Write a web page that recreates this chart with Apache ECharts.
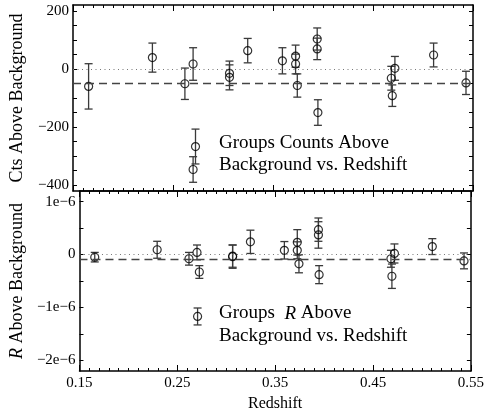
<!DOCTYPE html>
<html>
<head>
<meta charset="utf-8">
<script src="https://cdn.jsdelivr.net/npm/echarts@6/dist/echarts.min.js"></script>
<style>
  html, body { margin: 0; padding: 0; background: #fff; }
  #box { width: 487px; height: 413px; }
</style>
</head>
<body>
<div id="box"></div>
<script>
// redshift of each group
var z = [0.1656, 0.2294, 0.2619, 0.2701, 0.2725, 0.3065, 0.3065, 0.3247, 0.3594, 0.3726,
         0.3726, 0.3743, 0.3942, 0.3942, 0.3949, 0.4683, 0.4693, 0.4719, 0.5106, 0.5430];
// counts above background and 1-sigma errors
var cts = [-60, 39, -51, 17, -267, -15, -29, 63, 28, 44, 17, -57, 103, 69, -150, -32, -92, 2, 48, -48];
var ctsErr = [78, 50, 54, 56, 60, 42, 43, 42, 45, 38, 34, 40, 38, 37, 44, 41, 37, 41, 41, 40];
// R above background and errors
var r = [-0.05e-6, 0.09e-6, -0.08e-6, 0.04e-6, -0.33e-6, -0.03e-6, -0.04e-6, 0.24e-6, 0.08e-6, 0.23e-6,
         0.08e-6, -0.175e-6, 0.47e-6, 0.37e-6, -0.38e-6, -0.08e-6, -0.41e-6, 0.02e-6, 0.15e-6, -0.12e-6];
var rErr = [0.09e-6, 0.16e-6, 0.12e-6, 0.14e-6, 0.12e-6, 0.21e-6, 0.22e-6, 0.22e-6, 0.165e-6, 0.24e-6,
            0.16e-6, 0.17e-6, 0.22e-6, 0.25e-6, 0.17e-6, 0.16e-6, 0.23e-6, 0.18e-6, 0.15e-6, 0.15e-6];
// mean levels (dashed lines)
var ctsMean = -48;
var rMean = -0.08e-6;
// key symbols next to the panel captions
var keyCts = [0.2701, -346, 44];
var keyR = [0.2707, -1.17e-6, 0.16e-6];
// tick labels
var xTicks = [0.15, 0.25, 0.35, 0.45, 0.55];
var ctsTicks = [-400, -200, 0, 200];
var ctsMinor = [-400, -350, -300, -250, -200, -150, -100, -50, 0, 50, 100, 150, 200];
var rTicks = [-2e-6, -1e-6, 0, 1e-6];
var rMinor = [-2e-6, -1.5e-6, -1e-6, -0.5e-6, 0, 0.5e-6, 1e-6];

var FONT = 'Liberation Serif';
var myChart = echarts.init(document.getElementById('box'));

function minus(s) { return String(s).replace('-', '\u2212'); }

function errBars(params, api) {
  var x = api.value(0);
  var p1 = api.coord([x, api.value(2)]);
  var p2 = api.coord([x, api.value(1)]);
  var w = 4;
  var st = { stroke: '#3a3a3a', lineWidth: 1.3 };
  return {
    type: 'group',
    children: [
      { type: 'line', shape: { x1: p1[0], y1: p1[1], x2: p2[0], y2: p2[1] }, style: st },
      { type: 'line', shape: { x1: p1[0] - w, y1: p1[1], x2: p1[0] + w, y2: p1[1] }, style: st },
      { type: 'line', shape: { x1: p2[0] - w, y1: p2[1], x2: p2[0] + w, y2: p2[1] }, style: st }
    ]
  };
}

function barData(vals, errs, key) {
  var d = z.map(function (v, i) { return [v, vals[i] - errs[i], vals[i] + errs[i]]; });
  d.push([key[0], key[1] - key[2], key[1] + key[2]]);
  return d;
}
function ptData(vals, key) {
  var d = z.map(function (v, i) { return [v, vals[i]]; });
  d.push([key[0], key[1]]);
  return d;
}

var frame = { show: true, onZero: false, lineStyle: { color: '#000', width: 1.5 } };

function xAxis(grid, pos, labels) {
  var a = {
    type: 'value', gridIndex: grid, position: pos, min: 0.15, max: 0.55, interval: 0.1,
    axisLine: frame,
    axisTick: { inside: true, length: 6, lineStyle: { color: '#000' } },
    minorTick: { show: true, splitNumber: 10, length: 3, lineStyle: { color: '#000' } },
    splitLine: { show: false },
    axisLabel: { show: labels, formatter: function (v) { return v.toFixed(2); },
                 color: '#000', fontFamily: FONT, fontSize: 15, margin: 5 }
  };
  if (labels) {
    a.name = 'Redshift';
    a.nameLocation = 'middle';
    a.nameGap = 25;
    a.nameTextStyle = { color: '#000', fontFamily: FONT, fontSize: 16 };
  }
  return a;
}

function yAxis(grid, pos, min, max, ticks, minor, fmt, name) {
  var a = {
    type: 'value', gridIndex: grid, position: pos, min: min, max: max,
    axisLine: frame,
    axisTick: { inside: true, length: 4, customValues: minor, lineStyle: { color: '#000' } },
    splitLine: { show: false },
    axisLabel: { show: !!name, customValues: ticks, formatter: fmt,
                 color: '#000', fontFamily: FONT, fontSize: 15, margin: 4 }
  };
  if (name) {
    a.name = name;
    a.nameLocation = 'middle';
    a.nameGap = 47;
    a.nameTextStyle = { color: '#000', fontFamily: FONT, fontSize: 18,
      rich: { i: { fontStyle: 'italic', fontFamily: FONT, fontSize: 18 },
              n: { fontFamily: FONT, fontSize: 18 } } };
  }
  return a;
}

var ctsFmt = function (v) { return minus(v); };
var rFmt = function (v) {
  if (v === 0) return '0';
  return minus(Math.round(v / 1e-6) + 'e-6').replace(/e-6$/, 'e\u22126');
};

function meanLines(m) {
  return {
    silent: true, symbol: 'none', label: { show: false }, precision: 12,
    data: [
      { yAxis: m, lineStyle: { type: [8, 5], color: '#444', width: 1.3 } },
      { yAxis: 0, lineStyle: { type: [1, 3.5], color: '#777', width: 1 } }
    ]
  };
}

var option = {
  backgroundColor: '#fff',
  animation: false,
  title: [
    { text: 'Groups Counts Above\nBackground vs. Redshift', left: 214, top: 127,
      textStyle: { color: '#000', fontFamily: FONT, fontSize: 19, fontWeight: 'normal', lineHeight: 22 } },
    { text: '{n|Groups  }{i|R}{n| Above}\n{n|Background vs. Redshift}', left: 214, top: 297,
      textStyle: { color: '#000', fontFamily: FONT, fontSize: 19, fontWeight: 'normal', lineHeight: 23,
        rich: { n: { fontFamily: FONT, fontSize: 19, lineHeight: 23 },
                i: { fontFamily: FONT, fontSize: 19, fontStyle: 'italic', lineHeight: 23 } } } }
  ],
  grid: [
    { left: 70, top: 5, width: 403, height: 186, containLabel: false },
    { left: 70, top: 191, width: 403, height: 186, containLabel: false }
  ],
  xAxis: [
    xAxis(0, 'bottom', false), xAxis(0, 'top', false),
    xAxis(1, 'bottom', true), xAxis(1, 'top', false)
  ],
  yAxis: [
    yAxis(0, 'left', -420, 220, ctsTicks, ctsMinor, ctsFmt, 'Cts Above Background'),
    yAxis(0, 'right', -420, 220, ctsTicks, ctsMinor, ctsFmt, null),
    yAxis(1, 'left', -2.2e-6, 1.2e-6, rTicks, rMinor, rFmt, '{i|R}{n| Above Background}'),
    yAxis(1, 'right', -2.2e-6, 1.2e-6, rTicks, rMinor, rFmt, null)
  ],
  series: [
    { type: 'custom', xAxisIndex: 0, yAxisIndex: 0, renderItem: errBars,
      encode: { x: 0, y: [1, 2] }, data: barData(cts, ctsErr, keyCts), z: 3 },
    { type: 'scatter', xAxisIndex: 0, yAxisIndex: 0, data: ptData(cts, keyCts),
      symbol: 'circle', symbolSize: 8, z: 4,
      itemStyle: { color: 'rgba(0,0,0,0)', borderColor: '#000', borderWidth: 1.2 },
      markLine: meanLines(ctsMean) },
    { type: 'custom', xAxisIndex: 2, yAxisIndex: 2, renderItem: errBars,
      encode: { x: 0, y: [1, 2] }, data: barData(r, rErr, keyR), z: 3 },
    { type: 'scatter', xAxisIndex: 2, yAxisIndex: 2, data: ptData(r, keyR),
      symbol: 'circle', symbolSize: 8, z: 4,
      itemStyle: { color: 'rgba(0,0,0,0)', borderColor: '#000', borderWidth: 1.2 },
      markLine: meanLines(rMean) }
  ]
};

if (option && typeof option === 'object') {
  myChart.setOption(option, true);
}
</script>
</body>
</html>
